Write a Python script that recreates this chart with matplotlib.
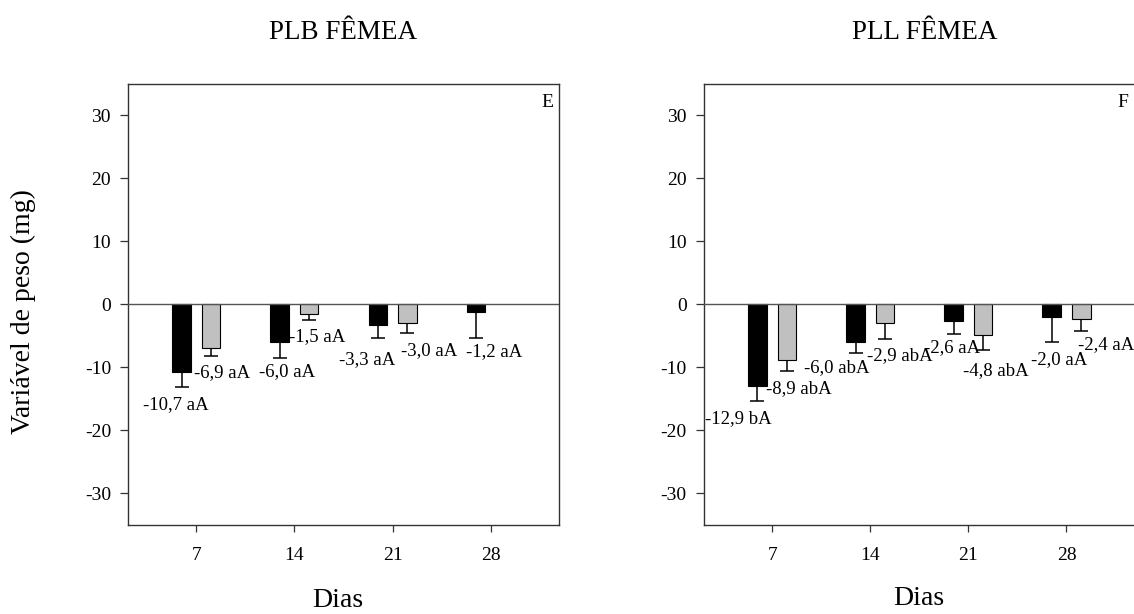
import numpy as np
import matplotlib
matplotlib.use("Agg")
import matplotlib.pyplot as plt

plt.rcParams['font.family'] = ['Liberation Serif', 'DejaVu Serif']
plt.rcParams['axes.unicode_minus'] = False

# dias de avaliação
dias = ['7', '14', '21', '28']

# PLB fêmea (E)
plb_preto = [-10.7, -6.0, -3.3, -1.2]
plb_preto_err = [2.4, 2.6, 2.1, 4.2]
plb_preto_let = ['aA', 'aA', 'aA', 'aA']
plb_cinza = [-6.9, -1.5, -3.0, np.nan]
plb_cinza_err = [1.3, 1.0, 1.6, np.nan]
plb_cinza_let = ['aA', 'aA', 'aA', '']

# PLL fêmea (F)
pll_preto = [-12.9, -6.0, -2.6, -2.0]
pll_preto_err = [2.4, 1.75, 2.1, 3.95]
pll_preto_let = ['bA', 'abA', 'aA', 'aA']
pll_cinza = [-8.9, -2.9, -4.8, -2.4]
pll_cinza_err = [1.65, 2.55, 2.45, 1.8]
pll_cinza_let = ['abA', 'abA', 'abA', 'aA']

# posição dos rótulos (x, y) em unidades dos eixos
plb_pos_preto = [(0.786, -15.9), (1.92, -10.7), (2.741, -8.7), (4.035, -7.5)]
plb_pos_cinza = [(1.265, -10.8), (2.227, -5.2), (3.373, -7.35), None]
pll_pos_preto = [(0.657, -18.2), (1.655, -10.0), (2.831, -6.9), (3.926, -8.8)]
pll_pos_cinza = [(1.268, -13.45), (2.296, -8.2), (3.284, -10.5), (4.40, -6.45)]

W = 0.19
DX = 0.15
FS = 13.5
FS_TICK = 14


def rotulo(v, letras):
    return ('%.1f' % v).replace('.', ',') + ' ' + letras


def painel(ax, preto, preto_err, preto_let, cinza, cinza_err, cinza_let,
           pos_preto, pos_cinza, letra):
    x = np.arange(1, len(dias) + 1)
    for xs, vals, errs, cor, lets, pos in [
            (x - DX, preto, preto_err, 'black', preto_let, pos_preto),
            (x + DX, cinza, cinza_err, '#c0c0c0', cinza_let, pos_cinza)]:
        vals = np.array(vals, float)
        errs = np.array(errs, float)
        ok = ~np.isnan(vals)
        ax.bar(xs[ok], vals[ok], width=W, color=cor, edgecolor='black',
               linewidth=0.8, zorder=3)
        ax.errorbar(xs[ok], vals[ok], yerr=[errs[ok], np.zeros(ok.sum())],
                    fmt='none', ecolor='black', elinewidth=1.1, capsize=5,
                    capthick=1.1, zorder=2)
        for v, l, p in zip(vals, lets, pos):
            if p is None or np.isnan(v):
                continue
            ax.text(p[0], p[1], rotulo(v, l), ha='center', va='center',
                    fontsize=FS, clip_on=False)

    ax.axhline(0, color='#555555', linewidth=1.0, zorder=4)
    ax.set_xlim(0.3, 4.7)
    ax.set_ylim(-35, 35)
    ax.set_xticks(x)
    ax.set_xticklabels(dias)
    ax.set_yticks(np.arange(-30, 31, 10))
    ax.set_yticklabels([str(v) for v in range(-30, 31, 10)])
    ax.tick_params(axis='y', direction='out', length=6, width=0.9,
                   labelsize=FS_TICK, pad=6, color='#333333')
    ax.tick_params(axis='x', direction='out', length=5, width=0.9,
                   labelsize=FS_TICK, pad=11, color='#333333')
    ax.tick_params(top=False, right=False)
    for s in ax.spines.values():
        s.set_color('#333333')
        s.set_linewidth(1.0)
    ax.text(0.972, 0.956, letra, transform=ax.transAxes, ha='center',
            va='center', fontsize=FS_TICK)


fig = plt.figure(figsize=(11.34, 6.14), dpi=100)
ax1 = fig.add_axes([0.1126, 0.145, 0.3806, 0.719])
ax2 = fig.add_axes([0.6204, 0.145, 0.3806, 0.719])

painel(ax1, plb_preto, plb_preto_err, plb_preto_let, plb_cinza,
       plb_cinza_err, plb_cinza_let, plb_pos_preto, plb_pos_cinza, 'E')
painel(ax2, pll_preto, pll_preto_err, pll_preto_let, pll_cinza,
       pll_cinza_err, pll_cinza_let, pll_pos_preto, pll_pos_cinza, 'F')

fig.text(0.3025, 0.9365, 'PLB FÊMEA', ha='center', va='baseline', fontsize=19.5)
fig.text(0.8157, 0.9365, 'PLL FÊMEA', ha='center', va='baseline', fontsize=19.5)
fig.text(0.298, 0.012, 'Dias', ha='center', va='baseline', fontsize=20)
fig.text(0.8104, 0.014, 'Dias', ha='center', va='baseline', fontsize=20)
fig.text(0.021, 0.493, 'Variável de peso (mg)', rotation=90, ha='center',
         va='center', fontsize=20)

fig.savefig('out.png', dpi=100)
